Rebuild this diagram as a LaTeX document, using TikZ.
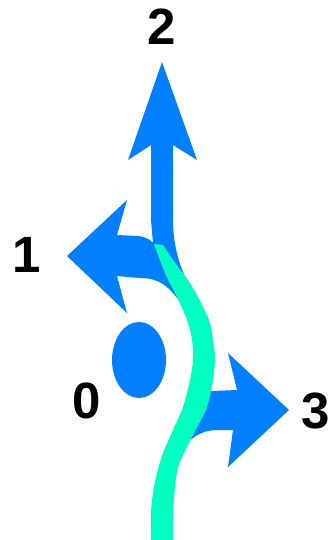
\documentclass[tikz,border=0pt]{standalone}
\usepackage{fontspec}
\setmainfont{Liberation Sans}
\usepackage{xcolor}
\usepackage{tikz}
\usetikzlibrary{shapes.geometric}

\definecolor{signblue}{RGB}{0,128,255}
\definecolor{lanegreen}{RGB}{0,255,192}

\begin{document}
\begin{tikzpicture}[x=1pt, y=-1pt,
        sign/.style={fill=signblue},
        lane/.style={fill=lanegreen},
        exitnum/.style={inner sep=0pt, font=\bfseries\fontsize{51}{51}\selectfont}]
        \useasboundingbox (0,0) rectangle (330,540);

        % Exits 1 and 2
        \fill[sign] (162,62) -- (197,160) -- (173,145) -- (173,220)
            .. controls (173,245) and (180,275) .. (196,293) -- (190,305) -- (180,302)
            .. controls (168,285) and (158,278) .. (140,278) -- (117,276)
            -- (127,313) -- (67,256) -- (127,200) -- (117,235) -- (138,236)
            .. controls (146,237) and (151,240) .. (153,243) -- (151,220)
            -- (151,145) -- (128,160) -- cycle;

        % Exit 3
        \fill[sign] (289,410) -- (228,353) -- (237,390) -- (212,391) -- (203,394)
            -- (180,452) .. controls (190,438) and (200,431) .. (215,430)
            -- (233,430) -- (228,467) -- cycle;

        % Island
        \node[ellipse, sign, minimum width=54pt, minimum height=76pt, inner sep=0pt] (island) at (139,360) {};

        % Entry lane
        \fill[lane] plot[smooth] coordinates {(151,540) (151,513) (153,493) (157,473) (163,453)
                (173,430) (183,407) (190,380) (193,360) (192,340) (187,320) (177,297) (165,273) (154,244)}
            -- plot[smooth] coordinates {(163,245) (173,260) (190,283) (203,307) (210,323) (213,340)
                (215,357) (213,380) (207,407) (197,427) (187,447) (178,467) (175,487) (173,513) (173,540)}
            -- cycle;

        % Labels
        \node[exitnum] (n2) at (161.5,26.5) {2};
        \node[exitnum] (n1) at (27,255) {1};
        \node[exitnum] (n0) at (87,401) {0};
        \node[exitnum] (n3) at (316,411) {3};
    \end{tikzpicture}
\end{document}
